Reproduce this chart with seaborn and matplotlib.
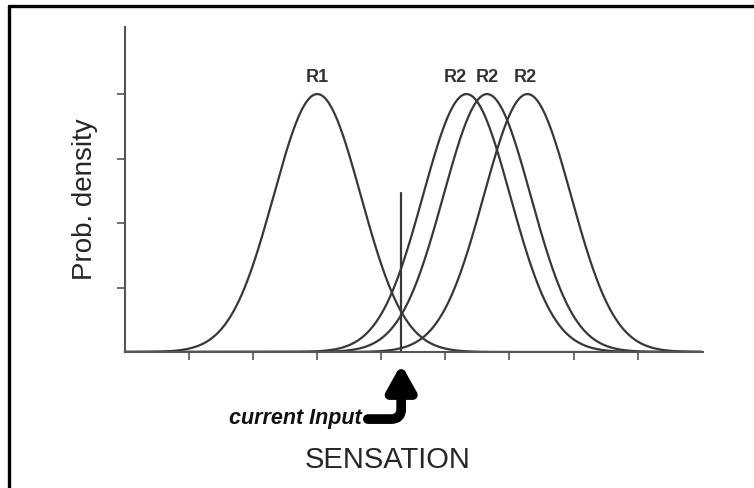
import numpy as np
import pandas as pd
import matplotlib.pyplot as plt
import seaborn as sns
from matplotlib.lines import Line2D

# response distributions along the sensation axis
curve_labels = ['R1', 'R2', 'R2', 'R2']
means = [3.0, 5.33, 5.65, 6.28]
sigma = 0.68
peak = 4.0
label_x = [3.0, 5.16, 5.66, 6.24]
label_y = 4.25

# current input marker
input_x = 4.31
input_top = 2.46

x_ticks = [1, 2, 3, 4, 5, 6, 7, 8]
y_ticks = [1, 2, 3, 4]

sns.set_style('ticks')
plt.rcParams['font.family'] = ['Liberation Sans', 'DejaVu Sans']

xs = np.linspace(0, 9.0, 800)
rows = []
for i, m in enumerate(means):
    ys = peak * np.exp(-(xs - m) ** 2 / (2 * sigma ** 2))
    rows.append(pd.DataFrame({'x': xs, 'y': ys, 'curve': i}))
df = pd.concat(rows, ignore_index=True)

line_col = '#383838'
fig, ax = plt.subplots(figsize=(7.54, 4.88), dpi=100)
fig.subplots_adjust(left=125/754, right=703/754, bottom=1-352/488, top=1-27/488)

sns.lineplot(data=df, x='x', y='y', units='curve', estimator=None,
             color=line_col, linewidth=1.6, ax=ax, legend=False)

ax.plot([input_x, input_x], [0, input_top], color=line_col, linewidth=1.6)

for lab, lx in zip(curve_labels, label_x):
    ax.text(lx, label_y, lab, ha='center', va='center', fontsize=13,
            fontweight='bold', color='#333333')

ax.set_xlim(0, 9.02)
ax.set_ylim(0, 5.04)
ax.set_xticks(x_ticks)
ax.set_yticks(y_ticks)
ax.set_xticklabels([])
ax.set_yticklabels([])
ax.tick_params(direction='out', length=6, width=1.2, color='#555555')
sns.despine(ax=ax)
for s in ['left', 'bottom']:
    ax.spines[s].set_color('#555555')
    ax.spines[s].set_linewidth(1.5)

ax.set_xlabel('SENSATION', fontsize=21)
ax.xaxis.set_label_coords((388-125)/578, -(446-352)/325)
ax.set_ylabel('Prob. density', fontsize=20)
ax.yaxis.set_label_coords((98-125)/578, (352-199)/325)

ax.text(3.70, -1.03, 'current Input', ha='right', va='center', fontsize=15.5,
        fontweight='bold', fontstyle='italic', color='#111111')
ax.annotate('', xy=(input_x, -0.19), xytext=(3.79, -1.04),
            arrowprops=dict(arrowstyle='-|>,head_width=0.42,head_length=0.75',
                            connectionstyle='angle,angleA=0,angleB=90,rad=10',
                            lw=7, color='black', shrinkA=0, shrinkB=0,
                            mutation_scale=20),
            annotation_clip=False)

# frame of the original scan (top and left edges)
fig.add_artist(Line2D([9/754, 9/754], [0, 1-6/488], color='black', linewidth=2.4))
fig.add_artist(Line2D([9/754, 1], [1-6/488, 1-6/488], color='black', linewidth=2.4))

plt.savefig('out.png', dpi=100)
